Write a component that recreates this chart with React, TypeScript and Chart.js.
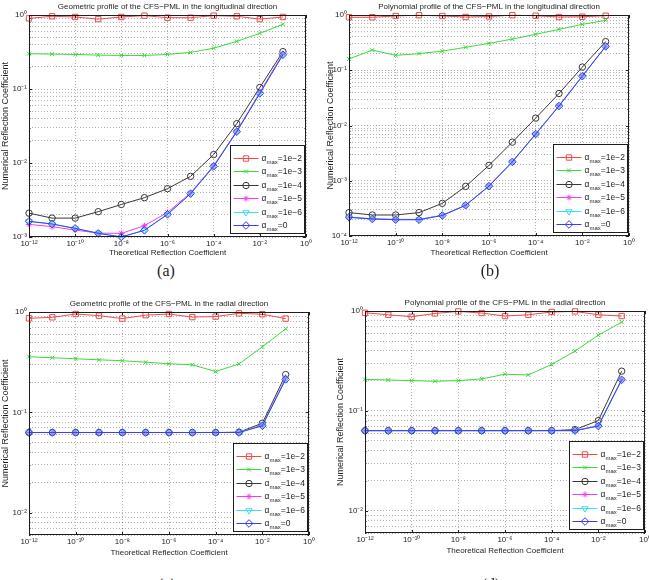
import React, { useEffect, useRef } from 'react';
import { Chart, registerables } from 'chart.js';
import { drawPoint } from 'chart.js/helpers';

Chart.register(...registerables);

const FONT = "'Liberation Sans', Arial, Helvetica, sans-serif";
const INK = '#1e1e1e';

// Theoretical reflection coefficients of the sweep (x values)
const theoretical = [1e-12, 1e-11, 1e-10, 1e-9, 1e-8, 1e-7, 1e-6, 1e-5, 1e-4, 1e-3, 1e-2, 1e-1];
// Labelled x ticks
const xTickValues = [1e-12, 1e-10, 1e-8, 1e-6, 1e-4, 1e-2, 1];
// alpha_max of each curve
const alphaMax = ['1e−2', '1e−3', '1e−4', '1e−5', '1e−6', '0'];
// y decades of each panel
const yDecadesA = [1e-3, 1e-2, 1e-1, 1];
const yDecadesB = [1e-4, 1e-3, 1e-2, 1e-1, 1];
const yDecadesC = [1e-3, 1e-2, 1e-1, 1];
const yDecadesD = [1e-3, 1e-2, 1e-1, 1];

// (a) geometric profile, longitudinal direction
const geoLong2 = [0.9, 0.96, 0.94, 0.88, 0.94, 0.98, 0.92, 0.92, 0.98, 0.96, 0.88, 0.94];
const geoLong3 = [0.3, 0.296, 0.293, 0.287, 0.284, 0.284, 0.293, 0.312, 0.356, 0.44, 0.565, 0.75];
const geoLong4 = [2.1e-3, 1.8e-3, 1.8e-3, 2.2e-3, 2.75e-3, 3.4e-3, 4.5e-3, 6.6e-3, 1.3e-2, 3.4e-2, 0.105, 0.32];
const geoLong5 = [1.48e-3, 1.38e-3, 1.24e-3, 1.13e-3, 1.12e-3, 1.42e-3, 2.15e-3, 3.95e-3, 9.2e-3, 2.7e-2, 0.09, 0.3];
const geoLong6 = [1.62e-3, 1.5e-3, 1.3e-3, 1.13e-3, 1.0e-3, 1.24e-3, 2.03e-3, 3.85e-3, 9.0e-3, 2.65e-2, 0.088, 0.29];
const geoLong0 = [1.63e-3, 1.5e-3, 1.31e-3, 1.12e-3, 1.0e-3, 1.23e-3, 2.02e-3, 3.85e-3, 9.0e-3, 2.65e-2, 0.087, 0.29];

// (b) polynomial profile, longitudinal direction
const polyLong2 = [0.91, 0.91, 0.96, 0.99, 0.96, 0.92, 0.94, 0.99, 0.97, 0.92, 0.93, 0.97];
const polyLong3 = [0.16, 0.232, 0.186, 0.2, 0.222, 0.26, 0.306, 0.367, 0.447, 0.55, 0.677, 0.8];
const polyLong4 = [2.65e-4, 2.4e-4, 2.4e-4, 2.65e-4, 3.9e-4, 7.9e-4, 1.9e-3, 5.0e-3, 1.36e-2, 3.8e-2, 0.114, 0.33];
const polyLong5 = [2.2e-4, 2.05e-4, 2.0e-4, 2.0e-4, 2.38e-4, 3.6e-4, 8.1e-4, 2.2e-3, 7.0e-3, 2.3e-2, 7.9e-2, 0.27];
const polyLong6 = [2.18e-4, 2.03e-4, 1.98e-4, 1.98e-4, 2.36e-4, 3.6e-4, 8.0e-4, 2.2e-3, 7.0e-3, 2.25e-2, 7.8e-2, 0.27];
const polyLong0 = [2.18e-4, 2.03e-4, 1.97e-4, 1.97e-4, 2.35e-4, 3.6e-4, 8.0e-4, 2.2e-3, 7.0e-3, 2.25e-2, 7.8e-2, 0.27];

// (c) geometric profile, radial direction
const geoRad2 = [0.865, 0.885, 0.955, 0.92, 0.86, 0.93, 0.955, 0.89, 0.9, 0.97, 0.95, 0.86];
const geoRad3 = [0.358, 0.35, 0.342, 0.334, 0.327, 0.316, 0.305, 0.298, 0.255, 0.304, 0.45, 0.68];
const geoRad4 = [0.063, 0.063, 0.063, 0.063, 0.063, 0.063, 0.063, 0.063, 0.063, 0.0635, 0.078, 0.238];
const geoRad5 = [0.063, 0.063, 0.063, 0.063, 0.063, 0.063, 0.063, 0.063, 0.063, 0.063, 0.075, 0.22];
const geoRad6 = [0.063, 0.063, 0.063, 0.063, 0.063, 0.063, 0.063, 0.063, 0.063, 0.063, 0.074, 0.215];
const geoRad0 = [0.063, 0.063, 0.063, 0.063, 0.063, 0.063, 0.063, 0.063, 0.063, 0.063, 0.0735, 0.213];

// (d) polynomial profile, radial direction
const polyRad2 = [0.96, 0.917, 0.876, 0.946, 0.99, 0.954, 0.89, 0.917, 0.977, 0.99, 0.917, 0.89];
const polyRad3 = [0.207, 0.204, 0.201, 0.198, 0.201, 0.209, 0.233, 0.229, 0.292, 0.397, 0.573, 0.774];
const polyRad4 = [0.0635, 0.0635, 0.0635, 0.0635, 0.0635, 0.0635, 0.0635, 0.0635, 0.0635, 0.065, 0.08, 0.25];
const polyRad5 = [0.0635, 0.0635, 0.0635, 0.0635, 0.0635, 0.0635, 0.0635, 0.0635, 0.0635, 0.0635, 0.071, 0.206];
const polyRad6 = [0.0635, 0.0635, 0.0635, 0.0635, 0.0635, 0.0635, 0.0635, 0.0635, 0.0635, 0.0635, 0.071, 0.205];
const polyRad0 = [0.0635, 0.0635, 0.0635, 0.0635, 0.0635, 0.0635, 0.0635, 0.0635, 0.0635, 0.0635, 0.0705, 0.205];

const seriesStyles = [
  { color: '#ee4a4a', pointStyle: 'rect', radius: 3.8, rotation: 0 },
  { color: '#3ed83e', pointStyle: 'crossRot', radius: 2.8, rotation: 0 },
  { color: '#383838', pointStyle: 'circle', radius: 3.2, rotation: 0 },
  { color: '#f03cf0', pointStyle: 'star', radius: 3, rotation: 0 },
  { color: '#38e0f0', pointStyle: 'triangle', radius: 3.6, rotation: 180 },
  { color: '#3c3cf0', pointStyle: 'rectRot', radius: 3.8, rotation: 0 },
];

const SUP: Record<string, string> = {
  '-': '⁻', '0': '⁰', '1': '¹', '2': '²', '3': '³', '4': '⁴',
  '5': '⁵', '6': '⁶', '7': '⁷', '8': '⁸', '9': '⁹',
};
const isDecade = (v: number) => Math.abs(Math.log10(v) - Math.round(Math.log10(v))) < 1e-6;
const powerLabel = (v: number) =>
  '10' + String(Math.round(Math.log10(v))).split('').map((c) => SUP[c]).join('');

function gridValues(decades: number[], min: number) {
  const out: number[] = [];
  decades.forEach((d) => {
    for (let k = 1; k <= 9; k++) {
      const v = k * d;
      if (v >= min * 0.999 && v <= 1.0001) out.push(v);
    }
  });
  return out;
}

// Box frame, inward tick marks and the south-east legend
const matlabFrame = {
  id: 'matlabFrame',
  afterDatasetsDraw(chart: any) {
    const { ctx, chartArea } = chart;
    const { left, right, top, bottom } = chartArea;
    const xs = chart.scales.x;
    const ys = chart.scales.y;
    ctx.save();
    ctx.setLineDash([]);
    ctx.strokeStyle = INK;
    ctx.lineWidth = 1;
    ctx.beginPath();
    xs.ticks.forEach((t: any) => {
      const p = Math.round(xs.getPixelForValue(t.value)) + 0.5;
      ctx.moveTo(p, bottom); ctx.lineTo(p, bottom - 3);
      ctx.moveTo(p, top); ctx.lineTo(p, top + 3);
    });
    ys.ticks.forEach((t: any) => {
      const len = isDecade(t.value) ? 3 : 1.5;
      const p = Math.round(ys.getPixelForValue(t.value)) + 0.5;
      ctx.moveTo(left, p); ctx.lineTo(left + len, p);
      ctx.moveTo(right, p); ctx.lineTo(right - len, p);
    });
    ctx.stroke();
    const l = Math.round(left) + 0.5;
    const t0 = Math.round(top) + 0.5;
    ctx.strokeRect(l, t0, Math.round(right) - Math.round(left) - 1, Math.round(bottom) - Math.round(top) - 1);

    // legend
    const boxW = 74;
    const boxH = 88;
    const bx = Math.round(right - 2 - boxW) + 0.5;
    const by = Math.round(bottom - 4 - boxH) + 0.5;
    ctx.fillStyle = '#ffffff';
    ctx.fillRect(bx, by, boxW, boxH);
    ctx.strokeStyle = INK;
    ctx.strokeRect(bx, by, boxW, boxH);
    chart.data.datasets.forEach((ds: any, i: number) => {
      const y = Math.round(by + 12 + i * 13.5) + 0.5;
      ctx.strokeStyle = ds.borderColor;
      ctx.lineWidth = 1;
      ctx.beginPath();
      ctx.moveTo(bx + 3, y);
      ctx.lineTo(bx + 28, y);
      ctx.stroke();
      ctx.fillStyle = 'rgba(0,0,0,0)';
      drawPoint(ctx, {
        pointStyle: ds.pointStyle, rotation: ds.pointRotation,
        radius: ds.pointRadius, borderWidth: 1,
      } as any, bx + 15.5, y);
      ctx.fillStyle = INK;
      ctx.textAlign = 'left';
      ctx.textBaseline = 'alphabetic';
      let tx = bx + 31;
      const base = y + 2.5;
      ctx.font = `8.5px ${FONT}`;
      ctx.fillText('α', tx, base);
      tx += ctx.measureText('α').width;
      ctx.font = `6px ${FONT}`;
      ctx.fillText('max', tx, base + 2.5);
      tx += ctx.measureText('max').width;
      ctx.font = `8.5px ${FONT}`;
      ctx.fillText('=' + alphaMax[i], tx, base);
    });
    ctx.restore();
  },
};

type PanelCfg = {
  caption: string;
  title: string;
  series: number[][];
  yMin: number;
  yDecades: number[];
  left: number; top: number; w: number; h: number;
  pad: { left: number; right: number; top: number; bottom: number };
  yWidth: number; xHeight: number;
  titlePad: { top: number; bottom: number };
  xTitlePad: number;
  capX: number; capY: number;
};

const panels: PanelCfg[] = [
  {
    caption: '(a)',
    title: 'Geometric profile of the CFS−PML in the longitudinal direction',
    series: [geoLong2, geoLong3, geoLong4, geoLong5, geoLong6, geoLong0],
    yMin: 1e-3, yDecades: yDecadesA,
    left: 0, top: 0, w: 345, h: 262,
    pad: { left: 0, right: 39, top: 0, bottom: 0 },
    yWidth: 29, xHeight: 25, titlePad: { top: 2.2, bottom: 3.2 }, xTitlePad: 4,
    capX: 166, capY: 262,
  },
  {
    caption: '(b)',
    title: 'Polynomial profile of the CFS−PML in the longitudinal direction',
    series: [polyLong2, polyLong3, polyLong4, polyLong5, polyLong6, polyLong0],
    yMin: 1e-4, yDecades: yDecadesB,
    left: 325, top: 0, w: 345, h: 262,
    pad: { left: 0, right: 41, top: 0, bottom: 0 },
    yWidth: 24, xHeight: 26, titlePad: { top: 2.2, bottom: 3.2 }, xTitlePad: 4.2,
    capX: 490, capY: 262,
  },
  {
    caption: '(c)',
    title: 'Geometric profile of the CFS−PML in the radial direction',
    series: [geoRad2, geoRad3, geoRad4, geoRad5, geoRad6, geoRad0],
    yMin: 0.006, yDecades: yDecadesC,
    left: 0, top: 290, w: 345, h: 272,
    pad: { left: 0, right: 36, top: 0, bottom: 0 },
    yWidth: 29, xHeight: 27, titlePad: { top: 9.2, bottom: 3.2 }, xTitlePad: 4.2,
    capX: 167, capY: 576,
  },
  {
    caption: '(d)',
    title: 'Polynomial profile of the CFS−PML in the radial direction',
    series: [polyRad2, polyRad3, polyRad4, polyRad5, polyRad6, polyRad0],
    yMin: 0.006, yDecades: yDecadesD,
    left: 325, top: 290, w: 345, h: 272,
    pad: { left: 10, right: 25, top: 0, bottom: 0 },
    yWidth: 30, xHeight: 29, titlePad: { top: 8.2, bottom: 3.2 }, xTitlePad: 6.2,
    capX: 491, capY: 576,
  },
];

function Panel({ p }: { p: PanelCfg }) {
  const ref = useRef<HTMLCanvasElement>(null);
  useEffect(() => {
    const canvas = ref.current;
    if (!canvas) return;
    const gridColor = 'rgba(0,0,0,0.3)';
    const chart = new Chart(canvas, {
      type: 'line',
      data: {
        datasets: p.series.map((vals, i) => {
          const s = seriesStyles[i];
          return {
            label: 'αmax=' + alphaMax[i],
            data: theoretical.map((x, j) => ({ x, y: vals[j] })),
            borderColor: s.color,
            backgroundColor: 'rgba(0,0,0,0)',
            pointBorderColor: s.color,
            pointBackgroundColor: 'rgba(0,0,0,0)',
            pointStyle: s.pointStyle as any,
            pointRotation: s.rotation,
            pointRadius: s.radius,
            pointBorderWidth: 1,
            borderWidth: 1,
            tension: 0,
            clip: false as any,
            order: p.series.length - 1 - i,
          };
        }),
      },
      options: {
        responsive: false,
        animation: false,
        devicePixelRatio: 1,
        events: [],
        layout: { padding: p.pad },
        plugins: {
          legend: { display: false },
          tooltip: { enabled: false },
          title: {
            display: true,
            text: p.title,
            fullSize: false,
            color: INK,
            font: { size: 8, family: FONT, weight: 'normal' },
            padding: p.titlePad,
          },
        },
        scales: {
          x: {
            type: 'logarithmic',
            position: 'bottom',
            min: 1e-12,
            max: 1,
            afterBuildTicks: (s: any) => {
              s.ticks = xTickValues.map((v) => ({ value: v }));
            },
            afterFit: (s: any) => { s.height = p.xHeight; },
            ticks: {
              callback: (v: any) => powerLabel(Number(v)),
              autoSkip: false,
              maxRotation: 0,
              padding: 2,
              color: INK,
              font: { size: 8, family: FONT },
            },
            grid: { color: gridColor, drawTicks: false, lineWidth: 1 },
            border: { display: false, dash: [1, 2] },
            title: {
              display: true,
              text: 'Theoretical Reflection Coefficient',
              color: INK,
              font: { size: 8, family: FONT },
              padding: { top: 0, bottom: p.xTitlePad },
            },
          },
          y: {
            type: 'logarithmic',
            position: 'left',
            min: p.yMin,
            max: 1,
            afterBuildTicks: (s: any) => {
              s.ticks = gridValues(p.yDecades, p.yMin).map((v) => ({ value: v }));
            },
            afterFit: (s: any) => { s.width = p.yWidth; },
            ticks: {
              callback: (v: any) => (isDecade(Number(v)) ? powerLabel(Number(v)) : ''),
              autoSkip: false,
              padding: 2,
              color: INK,
              font: { size: 8, family: FONT },
            },
            grid: { color: gridColor, drawTicks: false, lineWidth: 1 },
            border: { display: false, dash: [1, 2] },
            title: {
              display: true,
              text: 'Numerical Reflection Coefficient',
              color: INK,
              font: { size: 9, family: FONT },
              padding: { top: 0, bottom: 0 },
            },
          },
        },
      } as any,
      plugins: [matlabFrame],
    });
    return () => chart.destroy();
  }, [p]);
  return (
    <div style={{ position: 'absolute', left: p.left, top: p.top, width: p.w, height: p.h }}>
      <canvas ref={ref} width={p.w} height={p.h} style={{ display: 'block', width: p.w, height: p.h }} />
    </div>
  );
}

export default function App() {
  return (
    <div
      style={{
        position: 'absolute', left: 0, top: 0, width: 649, height: 580,
        overflow: 'hidden', background: '#ffffff',
      }}
    >
      {panels.map((p) => (
        <Panel key={p.caption} p={p} />
      ))}
      {panels.map((p) => (
        <div
          key={'cap' + p.caption}
          style={{
            position: 'absolute', left: p.capX - 20, top: p.capY, width: 40,
            textAlign: 'center', color: INK, lineHeight: '16px',
            font: "16px 'Liberation Serif', 'Times New Roman', serif",
          }}
        >
          {p.caption}
        </div>
      ))}
    </div>
  );
}
